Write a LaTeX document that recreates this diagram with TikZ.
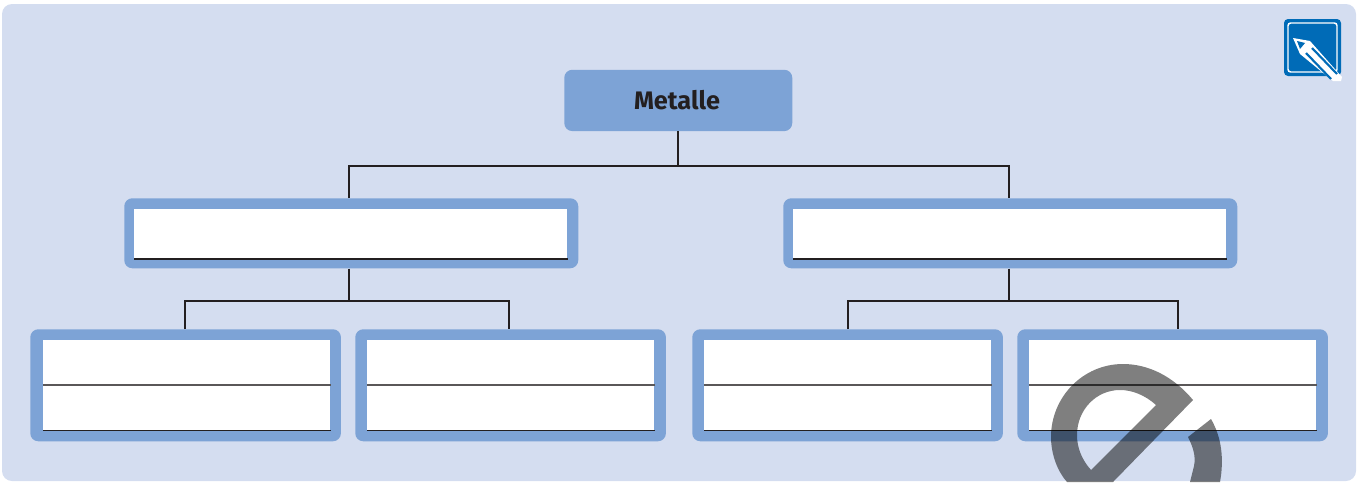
\documentclass[tikz,border=0pt]{standalone}
\usepackage{fontspec}
\setsansfont{Fira Sans}
\definecolor{panelbg}{RGB}{212,221,240}
\definecolor{framebl}{RGB}{125,163,214}
\definecolor{linedk}{RGB}{35,31,32}
\definecolor{iconbl}{RGB}{0,107,183}
\tikzset{
  outerbox/.style={fill=framebl,rounded corners=6pt,inner sep=0pt,anchor=north west},
  innerbox/.style={fill=white,inner sep=0pt,anchor=north west},
  link/.style={draw=linedk,line width=1.5pt},
  rule/.style={draw=linedk,line width=0.9pt},
  midrule/.style={draw=linedk!75,line width=1pt},
  stamp/.style={fill=black,fill opacity=0.5,even odd rule}
}
\begin{document}
\begin{tikzpicture}[x=0.75pt,y=0.75pt,yscale=-1,xscale=1]
\useasboundingbox (0,0) rectangle (1360,482);

%Panel
\fill [panelbg,rounded corners=7.5pt] (2,4) rectangle (1356,481);

%Title box
\node [outerbox,minimum width=171pt,minimum height=46pt] (root) at (564,69.5) {};
\node [font=\sffamily\bfseries\fontsize{19}{23}\selectfont,text=linedk] (roottext) at (677,100.5) {Metalle};

%Middle row
\node [outerbox,minimum width=340.5pt,minimum height=52.5pt] (midA) at (124,198) {};
\node [innerbox,minimum width=324.75pt,minimum height=37.5pt] (midAin) at (134,208.5) {};
\node [outerbox,minimum width=340.5pt,minimum height=52.5pt] (midB) at (783,198) {};
\node [innerbox,minimum width=324.75pt,minimum height=37.5pt] (midBin) at (793,208.5) {};

%Bottom row
\node [outerbox,minimum width=233pt,minimum height=84pt] (botA) at (30,329) {};
\node [innerbox,minimum width=215.25pt,minimum height=68pt] (botAin) at (43,339.5) {};
\node [outerbox,minimum width=233pt,minimum height=84pt] (botB) at (355,329) {};
\node [innerbox,minimum width=215.25pt,minimum height=68pt] (botBin) at (367,339.5) {};
\node [outerbox,minimum width=233pt,minimum height=84pt] (botC) at (692,329) {};
\node [innerbox,minimum width=215.25pt,minimum height=68pt] (botCin) at (704,339.5) {};
\node [outerbox,minimum width=233pt,minimum height=84pt] (botD) at (1017,329) {};
\node [innerbox,minimum width=215.25pt,minimum height=68pt] (botDin) at (1029,339.5) {};

%Writing lines
\foreach \n in {midAin,midBin,botAin,botBin,botCin,botDin}
  \draw [rule] (\n.south west) -- (\n.south east);
\foreach \n in {botAin,botBin,botCin,botDin}
  \draw [midrule] (\n.west) -- (\n.east);

%Connectors
\coordinate (forkroot) at (678,166);
\coordinate (forkA) at (349,301);
\coordinate (forkB) at (1009,301);
\draw [link] (root.south -| forkroot) -- (forkroot);
\draw [link] (midA.north -| forkA) |- (forkroot) -| (midB.north -| forkB);
\draw [link] (midA.south -| forkA) -- (forkA);
\draw [link] (midB.south -| forkB) -- (forkB);
\draw [link] (botA.north -| 185,0) |- (forkA) -| (botB.north -| 509,0);
\draw [link] (botC.north -| 848,0) |- (forkB) -| (botD.north -| 1178,0);

%Icon
\fill [iconbl,rounded corners=3pt] (1284,19) rectangle (1341,76);
\draw [white,line width=1.1pt,rounded corners=2pt] (1288,23) rectangle (1337,72);
\fill [white] (1293,38) -- (1310,41) -- (1342,77) -- (1341,81) -- (1333,81) -- (1300,54) -- cycle;
\fill [iconbl] (1297,41) -- (1305,43) -- (1300,49) -- cycle;
\draw [iconbl,line width=1.6pt] (1306,53) -- (1331,79) (1312,48) -- (1337,74);

%Watermark
\begin{scope}
\clip (2,4) rectangle (1356,482);
\fill [stamp] (1193,400) .. controls (1173,376) and (1148,364) .. (1123,364)
  .. controls (1083,364) and (1051,397) .. (1051,437)
  .. controls (1051,455) and (1058,472) .. (1067,482) -- (1113,482) -- cycle
  (1156,405) .. controls (1145,395) and (1132,390) .. (1120,390)
  .. controls (1096,390) and (1077,410) .. (1077,435)
  .. controls (1077,448) and (1082,460) .. (1091,470) -- cycle;
\fill [stamp] (1211,419) -- (1188,437) .. controls (1193,447) and (1196,456) .. (1194,466)
  -- (1190,482) -- (1220,482) .. controls (1224,460) and (1222,438) .. (1211,419) -- cycle;
\end{scope}
\end{tikzpicture}
\end{document}
